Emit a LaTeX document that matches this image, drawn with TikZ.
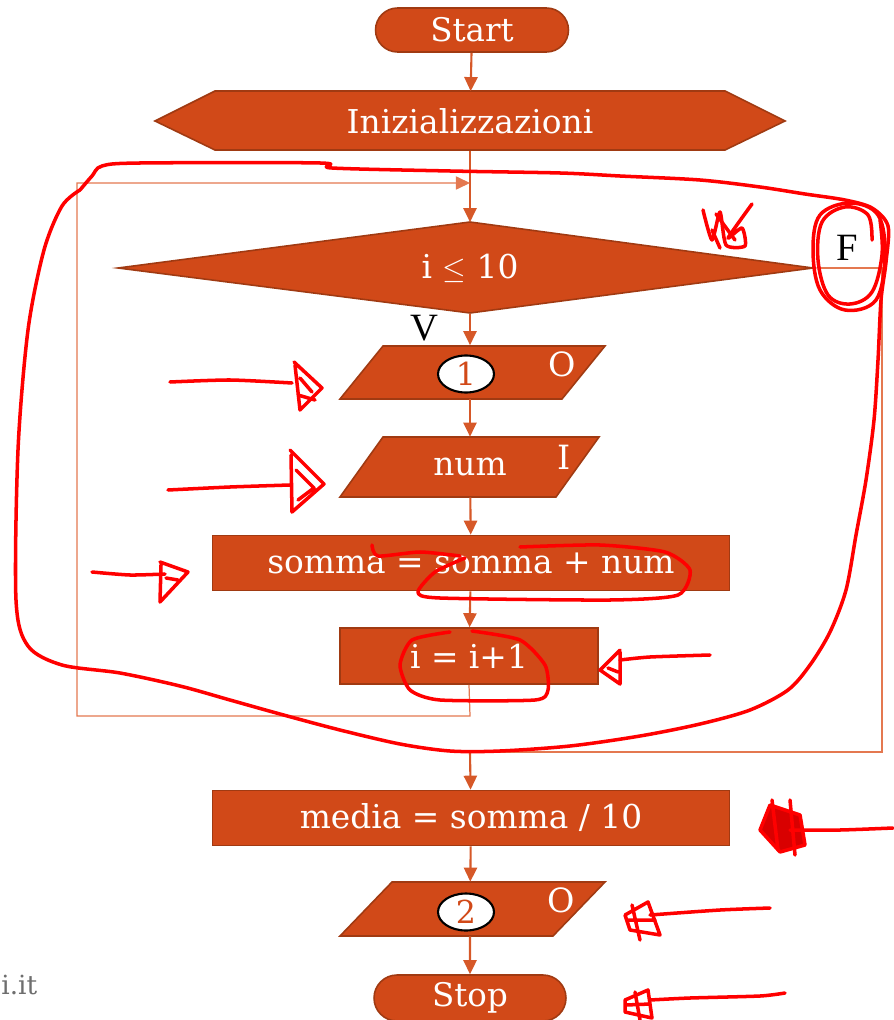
\documentclass[tikz,border=0pt]{standalone}
\usepackage{fontspec}
\setmainfont{DejaVu Serif}
\newfontfamily\labfont{Liberation Serif}
\usetikzlibrary{shapes.misc,shapes.geometric,arrows.meta}
\definecolor{fc}{RGB}{209,73,24}
\definecolor{bc}{RGB}{160,58,18}
\definecolor{ac}{RGB}{214,88,40}
\definecolor{lc}{RGB}{228,120,80}
\definecolor{rd}{RGB}{255,0,0}
\definecolor{gy}{RGB}{110,110,110}
\begin{document}
\begin{tikzpicture}[x=0.02cm,y=-0.02cm,
  box/.style={fill=fc,draw=bc,line width=0.9pt},
  txt/.style={text=white,font=\fontsize{18.7}{21}\selectfont,inner sep=0pt},
  holder/.style={txt,minimum width=#1,shape=rectangle},
  conn/.style={draw=ac,line width=1.2pt,-{Triangle[length=8pt,width=7.5pt]}},
  thinline/.style={draw=lc,line width=0.7pt},
  thinarrow/.style={thinline,-{Triangle[length=8pt,width=7.5pt]}},
  lbl/.style={text=black,font=\labfont\fontsize{22}{24}\selectfont,inner sep=0pt},
  io/.style={text=white,font=\fontsize{19}{21}\selectfont,inner sep=0pt},
  tag/.style={draw=black,fill=white,line width=1.2pt,ellipse,minimum width=1.12cm,minimum height=0.74cm,inner sep=0pt,text=fc,font=\fontsize{18}{20}\selectfont},
  ann/.style={draw=rd,line width=2pt,line join=round,line cap=round}
]
\useasboundingbox (0,0) rectangle (893,1020);

% Start
\node[box,txt,font=\fontsize{18.5}{20}\selectfont,shape=rounded rectangle,minimum width=3.86cm,minimum height=0.88cm] (start) at (472,30) {Start};

% Inizializzazioni (hexagon)
\path[box] (155,121) -- (215,91) -- (725,91) -- (785,121) -- (725,150) -- (215,150) -- cycle;
\node[holder=12.6cm,minimum height=1.18cm] (init) at (470,121) {Inizializzazioni};

% condition diamond
\path[box] (118,268) -- (470,222) -- (813,268) -- (470,313) -- cycle;
\node[holder=13.9cm,minimum height=1.82cm] (cond) at (470,268) {i $\leq$ 10};

% output 1
\path[box] (383,346) -- (605,346) -- (562,399) -- (340,399) -- cycle;
\node[holder=2cm,minimum height=1.06cm] (out1) at (470,372) {};
\node[tag] (c1) at (466,374) {1};
\node[io] (o1) at (562,364) {O};

% input
\path[box] (383,437) -- (599,437) -- (556,497) -- (340,497) -- cycle;
\node[holder=2cm,minimum height=1.2cm] (in) at (470,467) {num};
\node[io] (i1) at (564,457) {I};

% somma
\node[box,txt,minimum width=10.34cm,minimum height=1.1cm] (somma) at (471,563) {somma = somma + num};

% increment
\node[box,txt,minimum width=5.16cm,minimum height=1.12cm] (inc) at (469,656) {i = i+1};

% media
\node[box,txt,minimum width=10.34cm,minimum height=1.1cm] (media) at (471,818) {media = somma / 10};

% output 2
\path[box] (392,882) -- (605,882) -- (553,936) -- (340,936) -- cycle;
\node[holder=2cm,minimum height=1.08cm] (out2) at (470,909) {};
\node[tag] (c2) at (466,912) {2};
\node[io] (o2) at (561,900) {O};

% Stop
\node[box,txt,font=\fontsize{18.5}{20}\selectfont,shape=rounded rectangle,minimum width=3.84cm,minimum height=0.92cm] (stop) at (470,998) {Stop};

% labels
\node[lbl] (v) at (424,328) {V};
\node[lbl] (f) at (847,248) {F};
\node[anchor=west,text=gy,font=\fontsize{15}{17}\selectfont,inner sep=0pt] (site) at (1,985) {i.it};

% connectors
\coordinate (lj) at (470,183);
\coordinate (lb) at (470,716);
\coordinate (ll) at (77,716);
\coordinate (lt) at (77,183);
\coordinate (fr) at (882,268);
\coordinate (fb) at (882,752);
\coordinate (fm) at (470,752);

\draw[conn] (start) -- (init);
\draw[conn] (init) -- (cond);
\draw[conn] (cond) -- (out1);
\draw[conn] (out1) -- (in);
\draw[conn] (in) -- (somma);
\draw[conn] (somma) -- (inc);
\draw[thinarrow] (inc.south) -- (lb) -- (ll) -- (lt) -- (lj);
\draw[thinline] (cond.east) -- (fr) -- (fb) -- (fm);
\draw[conn] (fm) -- (media);
\draw[conn] (media) -- (out2);
\draw[conn] (out2) -- (stop);

% red annotations
\draw[ann] plot[smooth,tension=0.5] coordinates {(80,190) (92,176) (102,166) (140,163) (320,163) (332,168) (450,171) (560,173) (620,176) (700,180) (760,187) (805,194) (845,200) (872,208) (888,226) (886,262) (881,300) (878,360) (874,420) (866,480) (856,535) (846,590) (830,632) (810,665) (788,690) (750,710) (700,724) (640,736) (570,746) (500,751) (450,751) (400,744) (340,730) (280,714) (230,700) (180,686) (120,673) (62,665) (28,646) (16,600) (18,450) (28,330) (44,250) (62,206) (80,190)};
\draw[ann] plot[smooth cycle,tension=0.6] coordinates {(820,215) (850,203) (878,215) (885,255) (876,300) (845,310) (820,290) (813,250)};
\draw[ann] plot[smooth,tension=0.6] coordinates {(872,240) (868,215) (845,207) (822,222) (818,260) (828,295) (850,304) (872,292) (882,255) (880,220)};
\draw[ann] plot[smooth,tension=0.4] coordinates {(703,210) (712,240) (720,212) (726,245) (745,246) (742,228) (728,238) (752,204)};
\draw[ann] (712,230) -- (720,248) (716,214) -- (735,240);
% arrow scribbles
\draw[ann] plot[smooth,tension=0.4] coordinates {(170,382) (230,380) (292,383)};
\draw[ann] (294,362) -- (322,388) -- (300,410) -- (295,365) (300,378) -- (312,392) (298,395) -- (315,400);
\draw[ann] plot[smooth,tension=0.4] coordinates {(168,490) (230,487) (290,485)};
\draw[ann] (290,450) -- (324,484) -- (292,512) -- (291,455) (296,470) -- (314,488) -- (298,500);
\draw[ann] plot[smooth,tension=0.4] coordinates {(92,572) (130,575) (165,574)};
\draw[ann] (160,562) -- (188,572) -- (160,602) -- (161,565) (166,578) -- (178,580);
\draw[ann] plot[smooth,tension=0.4] coordinates {(710,655) (650,657) (620,660)};
\draw[ann] (620,650) -- (600,670) -- (620,684) -- (620,652) (608,668) -- (618,672);
\draw[ann,fill=rd!85!black] (770,805) -- (800,815) -- (805,845) -- (780,852) -- (760,830) -- cycle;
\draw[ann] plot[smooth,tension=0.4] coordinates {(893,828) (840,830) (790,830)};
\draw[ann] (772,800) -- (778,850) (790,800) -- (795,855);
\draw[ann] plot[smooth,tension=0.4] coordinates {(770,908) (720,910) (650,915)};
\draw[ann] (625,915) -- (648,902) -- (660,935) -- (630,930) -- (625,915) (632,905) -- (640,940) (628,920) -- (655,920);
\draw[ann] plot[smooth,tension=0.4] coordinates {(785,993) (760,996) (690,998) (650,1000)};
\draw[ann] (625,1000) -- (648,990) -- (652,1018) -- (625,1012) -- cycle (635,992) -- (640,1020) (626,1005) -- (650,1004);
% scribbles on somma / inc
\draw[ann] plot[smooth,tension=0.4] coordinates {(372,545) (378,556) (420,552) (460,556)};
\draw[ann] plot[smooth,tension=0.4] coordinates {(520,547) (600,545) (665,552) (690,570) (678,595) (610,600) (440,598) (418,592) (435,572) (465,558)};
\draw[ann] plot[smooth,tension=0.4] coordinates {(472,631) (520,640) (545,665) (548,690) (535,700) (440,700) (410,690) (400,665) (412,640) (450,632)};
\end{tikzpicture}
\end{document}
